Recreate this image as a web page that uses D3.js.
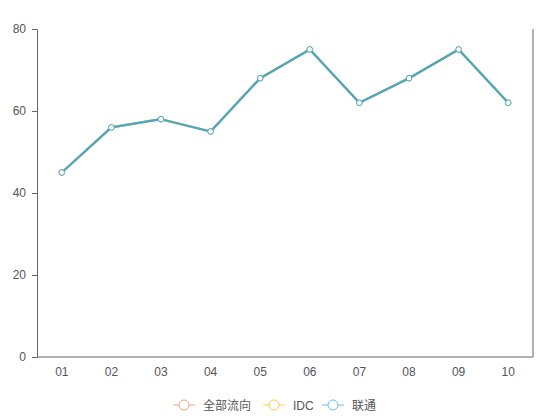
<!DOCTYPE html>
<html><head><meta charset="utf-8">
<script src="https://cdn.jsdelivr.net/npm/d3@7"></script>
<style>body{margin:0;background:#fff;} svg{display:block;font-family:"Liberation Sans","Noto Sans CJK SC",sans-serif;}</style>
</head><body>
<svg id="c" width="550" height="420"></svg>
<script>
const categories = ["01","02","03","04","05","06","07","08","09","10"];
const seriesNames = ["全部流向","IDC","联通"];
const allFlow = [45,56,58,55,68,75,62,68,75,62];
const idc     = [45,56,58,55,68,75,62,68,75,62];
const unicom  = [45,56,58,55,68,75,62,68,75,62];
const yTicks = [0,20,40,60,80];
const seriesColors = ["#f4a47c","#f6d04d","#48a8c8"];
const legendColors = ["#f4a47c","#f6d04d","#66c1e6"];

const svg = d3.select("#c");
const m = {l:37, r:17, t:29, b:63};
const W = 550, H = 420;
const x = d3.scaleBand().domain(categories).range([m.l, W-m.r]);
const y = d3.scaleLinear().domain([0,80]).range([H-m.b, m.t]);

// left axis
const ya = svg.append("g").attr("transform",`translate(${m.l},0)`)
  .call(d3.axisLeft(y).tickValues(yTicks).tickSize(5).tickPadding(6));
ya.select(".domain").attr("stroke","#666");
ya.selectAll(".tick line").attr("stroke","#666");
ya.selectAll(".tick text").attr("fill","#555").attr("font-size",12);
// right axis line
svg.append("line").attr("x1",W-m.r).attr("x2",W-m.r).attr("y1",y(80)).attr("y2",y(0)).attr("stroke","#666");
// bottom axis
const xa = svg.append("g").attr("transform",`translate(0,${y(0)})`)
  .call(d3.axisBottom(x).tickSize(0).tickPadding(10));
xa.select(".domain").attr("stroke","#666").attr("d",`M${m.l},0H${W-m.r}`);
xa.selectAll(".tick text").attr("fill","#555").attr("font-size",12);

const data = [allFlow, idc, unicom];
const line = d3.line().x((d,i)=>x(categories[i])+x.bandwidth()/2).y(d=>y(d));
data.forEach((vals,si)=>{
  const g = svg.append("g");
  g.append("path").datum(vals).attr("d",line).attr("fill","none")
    .attr("stroke",seriesColors[si]).attr("stroke-width",2.2).attr("stroke-linejoin","round");
  g.selectAll("circle").data(vals).join("circle")
    .attr("cx",(d,i)=>x(categories[i])+x.bandwidth()/2).attr("cy",d=>y(d)).attr("r",2.8)
    .attr("fill","#fff").attr("stroke",seriesColors[si]).attr("stroke-width",1);
});

// legend
const lg = svg.append("g").attr("transform","translate(0,405)");
const legendX = [173,263,322];
seriesNames.forEach((n,i)=>{
  const gi = lg.append("g").attr("transform",`translate(${legendX[i]},0)`);
  gi.append("line").attr("x1",0).attr("x2",22).attr("stroke",legendColors[i]).attr("stroke-width",1);
  gi.append("circle").attr("cx",11).attr("cy",0).attr("r",5).attr("fill","#fff").attr("stroke",legendColors[i]).attr("stroke-width",1);
  gi.append("text").attr("x",30).attr("y",4.5).attr("font-size",12).attr("fill","#555").text(n);
});
</script>
</body></html>
